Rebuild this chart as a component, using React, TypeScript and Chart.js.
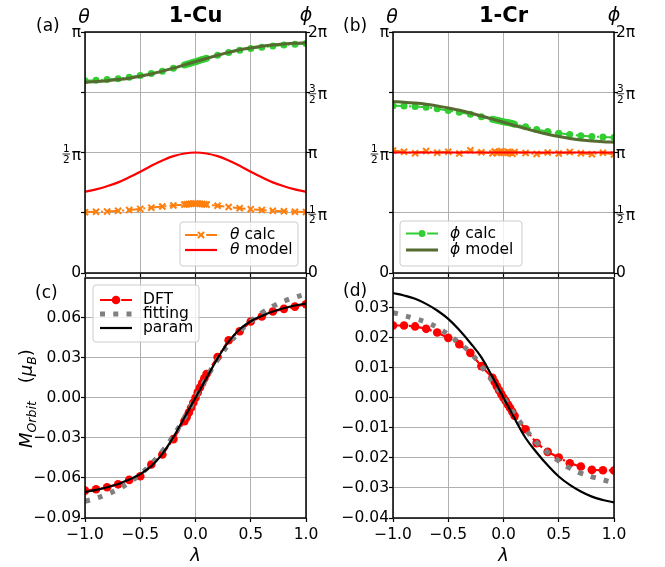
import React, { useEffect, useRef } from 'react';
import { Chart, registerables } from 'chart.js';
Chart.register(...registerables);

// ---------------- data ----------------
const LAM_CALC = [-1, -0.9, -0.8, -0.7, -0.6, -0.5, -0.4, -0.3, -0.2, -0.1, -0.08, -0.06, -0.04, -0.02, 0, 0.02, 0.04, 0.06, 0.08, 0.1, 0.2, 0.3, 0.4, 0.5, 0.6, 0.7, 0.8, 0.9, 1];
const LAM_MODEL = [-1, -0.9, -0.8, -0.7, -0.6, -0.5, -0.4, -0.3, -0.2, -0.1, 0, 0.1, 0.2, 0.3, 0.4, 0.5, 0.6, 0.7, 0.8, 0.9, 1];

// angles in units of pi
const CU_THETA_CALC = [0.252, 0.254, 0.255, 0.258, 0.261, 0.266, 0.271, 0.276, 0.280, 0.284, 0.285, 0.286, 0.287, 0.288, 0.288, 0.288, 0.287, 0.286, 0.285, 0.284, 0.279, 0.274, 0.269, 0.265, 0.261, 0.258, 0.256, 0.254, 0.253];
const CU_THETA_MODEL = [0.337, 0.347, 0.360, 0.376, 0.397, 0.420, 0.445, 0.467, 0.485, 0.496, 0.500, 0.496, 0.485, 0.467, 0.445, 0.420, 0.397, 0.376, 0.360, 0.347, 0.337];
const CU_PHI_CALC = [1.596, 1.600, 1.606, 1.613, 1.624, 1.639, 1.655, 1.675, 1.699, 1.727, 1.732, 1.737, 1.743, 1.748, 1.754, 1.760, 1.765, 1.771, 1.776, 1.782, 1.808, 1.830, 1.849, 1.863, 1.874, 1.884, 1.892, 1.899, 1.905];
const CU_PHI_MODEL = [1.584, 1.589, 1.596, 1.605, 1.617, 1.633, 1.652, 1.675, 1.700, 1.727, 1.754, 1.781, 1.807, 1.831, 1.852, 1.868, 1.882, 1.893, 1.901, 1.907, 1.911];

const CR_THETA_CALC = [0.508, 0.503, 0.497, 0.506, 0.499, 0.503, 0.496, 0.509, 0.501, 0.497, 0.504, 0.498, 0.502, 0.506, 0.499, 0.497, 0.503, 0.500, 0.495, 0.502, 0.498, 0.494, 0.500, 0.496, 0.502, 0.497, 0.493, 0.499, 0.492];
const CR_THETA_MODEL = [0.5, 0.5, 0.5, 0.5, 0.5, 0.5, 0.5, 0.5, 0.5, 0.5, 0.5, 0.5, 0.5, 0.5, 0.5, 0.5, 0.5, 0.5, 0.5, 0.5, 0.5];
const CR_PHI_CALC = [1.388, 1.385, 1.381, 1.376, 1.363, 1.349, 1.334, 1.317, 1.297, 1.276, 1.272, 1.268, 1.264, 1.260, 1.256, 1.252, 1.248, 1.244, 1.240, 1.235, 1.213, 1.191, 1.174, 1.160, 1.149, 1.140, 1.133, 1.128, 1.124];
const CR_PHI_MODEL = [1.422, 1.418, 1.411, 1.401, 1.387, 1.369, 1.350, 1.328, 1.303, 1.277, 1.251, 1.224, 1.198, 1.173, 1.151, 1.132, 1.116, 1.104, 1.095, 1.089, 1.085];

// orbital moments (mu_B)
const CU_DFT = [-0.0695, -0.0685, -0.0670, -0.0648, -0.0615, -0.0588, -0.0500, -0.0425, -0.0310, -0.0175, -0.0145, -0.0110, -0.0075, -0.0037, 0.0000, 0.0040, 0.0077, 0.0110, 0.0145, 0.0178, 0.0305, 0.0430, 0.0498, 0.0570, 0.0608, 0.0645, 0.0665, 0.0682, 0.0700];
const CU_FIT = [-0.0775, -0.0752, -0.0722, -0.0685, -0.0635, -0.0572, -0.0495, -0.0400, -0.0285, -0.0150, 0, 0.0150, 0.0285, 0.0400, 0.0495, 0.0572, 0.0635, 0.0685, 0.0722, 0.0752, 0.0775];
const CU_PARAM = [-0.0705, -0.0690, -0.0670, -0.0645, -0.0612, -0.0572, -0.0512, -0.0420, -0.0295, -0.0148, 0, 0.0148, 0.0295, 0.0420, 0.0512, 0.0572, 0.0612, 0.0645, 0.0670, 0.0690, 0.0705];

const CR_DFT = [0.0240, 0.0240, 0.0237, 0.0229, 0.0217, 0.0199, 0.0178, 0.0149, 0.0105, 0.0066, 0.0052, 0.0038, 0.0025, 0.0012, 0.0000, -0.0011, -0.0023, -0.0034, -0.0047, -0.0060, -0.0105, -0.0151, -0.0180, -0.0199, -0.0218, -0.0229, -0.0240, -0.0241, -0.0242];
const CR_FIT = [0.0283, 0.0273, 0.0263, 0.0251, 0.0234, 0.0210, 0.0182, 0.0150, 0.0105, 0.0055, 0, -0.0055, -0.0105, -0.0150, -0.0182, -0.0210, -0.0234, -0.0251, -0.0263, -0.0273, -0.0283];
const CR_PARAM = [0.0348, 0.0340, 0.0329, 0.0312, 0.0290, 0.0262, 0.0225, 0.0182, 0.0134, 0.0069, 0, -0.0069, -0.0134, -0.0182, -0.0225, -0.0262, -0.0290, -0.0312, -0.0329, -0.0340, -0.0348];

// ticks
const X_TICKS = [-1, -0.5, 0, 0.5, 1];
const THETA_TICKS = [0, 0.25, 0.5, 0.75, 1];
const THETA_LABELS = ['0', '', '1/2π', '', 'π'];
const PHI_TICKS = [0, 0.5, 1, 1.5, 2];
const PHI_LABELS = ['0', '1/2π', 'π', '3/2π', '2π'];
const CU_M_TICKS = [-0.09, -0.06, -0.03, 0, 0.03, 0.06];
const CR_M_TICKS = [-0.04, -0.03, -0.02, -0.01, 0, 0.01, 0.02, 0.03];

// ---------------- style ----------------
const W = 665, H = 567;
const FAM = '"DejaVu Sans", sans-serif';
const GRID = '#b0b0b0';
const ORANGE = '#ff7f0e';
const RED = '#ff0000';
const GREEN = '#32cd32';
const OLIVE = '#556b2f';
const GRAY = '#808080';
const DASHDOT = [12.8, 3.2, 2, 3.2];
const DOTTED = [5, 8.25];
const TICK_FS = 15.5;

const gridOpt = { color: GRID, lineWidth: 1, drawTicks: true, tickLength: 4, tickColor: '#000', tickWidth: 1.2 };

function fmt(v: number, d: number) {
  const s = Math.abs(v) < 1e-9 ? (0).toFixed(d) : v.toFixed(d);
  return s.replace('-', '\u2212');
}
const pts = (xs: number[], ys: number[]) => xs.map((x, i) => ({ x, y: ys[i] }));

type Piece = { t?: string; italic?: boolean; bold?: boolean; size?: number; dy?: number; gap?: number };
function drawPieces(ctx: any, pieces: Piece[], x: number, y: number, base: number) {
  let cx = x;
  for (const p of pieces) {
    if (p.gap) { cx += p.gap; continue; }
    ctx.font = `${p.italic ? 'italic ' : ''}${p.bold ? 'bold ' : ''}${p.size ?? base}px ${FAM}`;
    ctx.fillText(p.t, cx, y + (p.dy ?? 0));
    cx += ctx.measureText(p.t).width;
  }
  return cx - x;
}

function roundRect(ctx: any, x: number, y: number, w: number, h: number, r: number) {
  ctx.beginPath();
  ctx.moveTo(x + r, y);
  ctx.lineTo(x + w - r, y); ctx.arcTo(x + w, y, x + w, y + r, r);
  ctx.lineTo(x + w, y + h - r); ctx.arcTo(x + w, y + h, x + w - r, y + h, r);
  ctx.lineTo(x + r, y + h); ctx.arcTo(x, y + h, x, y + h - r, r);
  ctx.lineTo(x, y + r); ctx.arcTo(x, y, x + r, y, r);
  ctx.closePath();
}

function drawMarker(ctx: any, ds: any, x: number, y: number) {
  const r = ds.pointRadius;
  if (!r) return;
  ctx.save();
  ctx.setLineDash([]);
  if (ds.pointStyle === 'crossRot') {
    const o = r * Math.SQRT1_2;
    ctx.strokeStyle = ds.pointBorderColor; ctx.lineWidth = ds.pointBorderWidth;
    ctx.beginPath();
    ctx.moveTo(x - o, y - o); ctx.lineTo(x + o, y + o);
    ctx.moveTo(x - o, y + o); ctx.lineTo(x + o, y - o);
    ctx.stroke();
  } else {
    ctx.fillStyle = ds.pointBackgroundColor;
    ctx.beginPath(); ctx.arc(x, y, r, 0, Math.PI * 2); ctx.fill();
  }
  ctx.restore();
}

type LegendSpec = { x: number; y: number; w: number; h: number; rows: { ds: number; label: Piece[]; dy: number }[]; h0: number; h1: number; tx: number };
function drawLegend(chart: any, s: LegendSpec) {
  if (!s.rows.length) return;
  const ctx = chart.ctx;
  ctx.save();
  roundRect(ctx, s.x, s.y, s.w, s.h, 3);
  ctx.fillStyle = 'rgba(255,255,255,0.8)'; ctx.fill();
  ctx.strokeStyle = '#cccccc'; ctx.lineWidth = 1; ctx.stroke();
  for (const r of s.rows) {
    const ds = chart.data.datasets[r.ds];
    const yy = s.y + r.dy;
    ctx.save();
    ctx.beginPath();
    ctx.setLineDash(ds.borderDash || []);
    ctx.strokeStyle = ds.borderColor; ctx.lineWidth = ds.borderWidth; ctx.lineCap = 'butt';
    ctx.moveTo(s.x + s.h0, yy); ctx.lineTo(s.x + s.h1, yy); ctx.stroke();
    ctx.restore();
    drawMarker(ctx, ds, s.x + (s.h0 + s.h1) / 2, yy);
    ctx.fillStyle = '#000'; ctx.textBaseline = 'middle'; ctx.textAlign = 'left';
    drawPieces(ctx, r.label, s.x + s.tx, yy, TICK_FS);
  }
  ctx.restore();
}

function drawAngleLabel(ctx: any, label: string, x: number, y: number, align: 'left' | 'right') {
  if (!label) return;
  ctx.save();
  ctx.fillStyle = '#000';
  ctx.strokeStyle = '#000';
  if (label.includes('/')) {
    const [num, rest] = label.split('/');
    const den = rest.replace('π', '');
    const FS = 10.5;
    ctx.font = `${FS}px ${FAM}`;
    const fw = Math.max(ctx.measureText(num).width, ctx.measureText(den).width) + 2;
    ctx.font = `${TICK_FS}px ${FAM}`;
    const pw = ctx.measureText('π').width;
    const total = fw + 1 + pw;
    const sx = align === 'left' ? x : x - total;
    const barY = y + 1.5;
    ctx.font = `${FS}px ${FAM}`;
    ctx.textAlign = 'center'; ctx.textBaseline = 'alphabetic';
    ctx.fillText(num, sx + fw / 2, barY - 1.6);
    ctx.fillText(den, sx + fw / 2, barY + 9.2);
    ctx.lineWidth = 0.8;
    ctx.beginPath(); ctx.moveTo(sx + 0.5, barY); ctx.lineTo(sx + fw - 0.5, barY); ctx.stroke();
    ctx.font = `${TICK_FS}px ${FAM}`;
    ctx.textAlign = 'left';
    ctx.fillText('π', sx + fw + 1, barY + 5.5);
  } else {
    ctx.font = `${TICK_FS}px ${FAM}`;
    ctx.textAlign = align; ctx.textBaseline = 'middle';
    ctx.fillText(label, x, y + (label.includes('π') ? 1 : 0));
  }
  ctx.restore();
}

type Deco = {
  title?: string; panel: string; panelX: number; panelY: number;
  angles?: boolean; legend: LegendSpec; ylabel?: boolean;
};

function decoPlugin(d: Deco) {
  return {
    id: 'deco',
    afterDraw(chart: any) {
      const ctx = chart.ctx;
      const { left: L, top: T, right: R, bottom: B } = chart.chartArea;
      ctx.save();
      ctx.strokeStyle = '#000'; ctx.lineWidth = 1.5;
      ctx.strokeRect(L, T, R - L, B - T);
      drawLegend(chart, d.legend);
      ctx.fillStyle = '#000';
      ctx.textAlign = 'left'; ctx.textBaseline = 'alphabetic';
      ctx.font = `17px ${FAM}`;
      ctx.fillText(d.panel, d.panelX, d.panelY);
      if (d.title) {
        ctx.font = `bold 21px ${FAM}`;
        ctx.textAlign = 'center';
        ctx.fillText(d.title, (L + R) / 2, 22);
      }
      if (d.angles) {
        ctx.font = `italic 19px ${FAM}`;
        ctx.textAlign = 'center';
        ctx.fillText('θ', L - 1, 23);
        ctx.fillText('ϕ', R, 21);
        const yL = chart.scales.yL, yR = chart.scales.yR;
        THETA_TICKS.forEach((v, i) => drawAngleLabel(ctx, THETA_LABELS[i], L - 4, yL.getPixelForValue(v), 'right'));
        PHI_TICKS.forEach((v, i) => drawAngleLabel(ctx, PHI_LABELS[i], R + 2, yR.getPixelForValue(v), 'left'));
      }
      if (d.ylabel) {
        const pieces: Piece[] = [
          { t: 'M', italic: true, size: 18 },
          { t: 'Orbit', italic: true, size: 12.5, dy: 3.5 },
          { gap: 18 },
          { t: '(', size: 18 },
          { t: 'μ', italic: true, size: 18 },
          { t: 'B', italic: true, size: 12.5, dy: 3.5 },
          { t: ')', size: 18 },
        ];
        ctx.save();
        ctx.translate(32, (T + B) / 2 + 50);
        ctx.rotate(-Math.PI / 2);
        ctx.textAlign = 'left'; ctx.textBaseline = 'alphabetic';
        drawPieces(ctx, pieces, 0, 0, 18);
        ctx.restore();
      }
      ctx.restore();
    },
  };
}

function xScale(showLabels: boolean, axisH: number) {
  return {
    type: 'linear', position: 'bottom', min: -1, max: 1,
    afterBuildTicks: (s: any) => { s.ticks = X_TICKS.map((v) => ({ value: v })); },
    afterFit: (s: any) => { s.height = axisH; },
    grid: gridOpt,
    border: { display: false },
    ticks: {
      display: showLabels, autoSkip: false, maxRotation: 0, padding: 4, color: '#000',
      font: { family: FAM, size: TICK_FS }, callback: (v: number) => fmt(v, 1),
    },
    title: showLabels
      ? { display: true, text: 'λ', color: '#000', font: { family: FAM, size: 18, style: 'italic' }, padding: { top: 0, bottom: 0 } }
      : { display: false },
  };
}

const commonOpts = {
  responsive: false, animation: false, devicePixelRatio: 1, events: [],
  plugins: { legend: { display: false }, tooltip: { enabled: false }, title: { display: false } },
};

type Box = { L: number; T: number; R: number; B: number };

function angleChart(canvas: HTMLCanvasElement, p: Box, tc: number[], tm: number[], pc: number[], pm: number[], deco: Deco) {
  const yLW = 40, yRW = 30, xH = 10;
  return new Chart(canvas as any, {
    type: 'line',
    data: {
      datasets: [
        { label: 'θ calc', data: pts(LAM_CALC, tc), yAxisID: 'yL', borderColor: ORANGE, borderWidth: 2, borderDash: DASHDOT,
          pointStyle: 'crossRot', pointRadius: 4.3, pointBorderColor: ORANGE, pointBackgroundColor: ORANGE, pointBorderWidth: 2, order: 3, clip: 0, tension: 0 },
        { label: 'θ model', data: pts(LAM_MODEL, tm), yAxisID: 'yL', borderColor: RED, borderWidth: 2.2, pointRadius: 0, order: 2, clip: 0, tension: 0.4 },
        { label: 'ϕ calc', data: pts(LAM_CALC, pc), yAxisID: 'yR', borderColor: GREEN, borderWidth: 2, borderDash: DASHDOT,
          pointStyle: 'circle', pointRadius: 3.5, pointBorderWidth: 0, pointBorderColor: GREEN, pointBackgroundColor: GREEN, order: 1, clip: 0, tension: 0 },
        { label: 'ϕ model', data: pts(LAM_MODEL, pm), yAxisID: 'yR', borderColor: OLIVE, borderWidth: 3, pointRadius: 0, order: 0, clip: 0, tension: 0.4 },
      ],
    },
    options: {
      ...commonOpts,
      layout: { padding: { left: p.L - yLW, right: W - p.R - yRW, top: p.T, bottom: H - p.B - xH } },
      scales: {
        x: xScale(false, xH),
        yL: {
          type: 'linear', position: 'left', min: 0, max: 1,
          afterBuildTicks: (s: any) => { s.ticks = THETA_TICKS.map((v) => ({ value: v })); },
          afterFit: (s: any) => { s.width = yLW; },
          grid: gridOpt, border: { display: false }, ticks: { display: false, autoSkip: false },
        },
        yR: {
          type: 'linear', position: 'right', min: 0, max: 2,
          afterBuildTicks: (s: any) => { s.ticks = PHI_TICKS.map((v) => ({ value: v })); },
          afterFit: (s: any) => { s.width = yRW; },
          grid: { ...gridOpt, drawOnChartArea: false }, border: { display: false }, ticks: { display: false, autoSkip: false },
        },
      },
    } as any,
    plugins: [decoPlugin(deco) as any],
  });
}

function momentChart(canvas: HTMLCanvasElement, p: Box, dft: number[], fit: number[], par: number[], yMin: number, yMax: number, yTicks: number[], deco: Deco) {
  const yLW = 80, xH = 49;
  return new Chart(canvas as any, {
    type: 'line',
    data: {
      datasets: [
        { label: 'DFT', data: pts(LAM_CALC, dft), borderColor: RED, borderWidth: 2.2, borderDash: DASHDOT,
          pointStyle: 'circle', pointRadius: 4.3, pointBorderWidth: 0, pointBorderColor: RED, pointBackgroundColor: RED, order: 2, clip: 0, tension: 0 },
        { label: 'fitting', data: pts(LAM_MODEL, fit), borderColor: GRAY, borderWidth: 5, borderDash: DOTTED, borderCapStyle: 'butt',
          pointRadius: 0, order: 1, clip: 0, tension: 0.4 },
        { label: 'param', data: pts(LAM_MODEL, par), borderColor: '#000', borderWidth: 2.2, pointRadius: 0, order: 0, clip: 0, tension: 0.4 },
      ],
    },
    options: {
      ...commonOpts,
      layout: { padding: { left: p.L - yLW, right: W - p.R, top: p.T, bottom: H - p.B - xH } },
      scales: {
        x: xScale(true, xH),
        y: {
          type: 'linear', position: 'left', min: yMin, max: yMax,
          afterBuildTicks: (s: any) => { s.ticks = yTicks.map((v) => ({ value: v })); },
          afterFit: (s: any) => { s.width = yLW; },
          grid: gridOpt, border: { display: false },
          ticks: { autoSkip: false, padding: 0, color: '#000', font: { family: FAM, size: TICK_FS }, callback: (v: number) => fmt(v, 2) },
        },
      },
    } as any,
    plugins: [decoPlugin(deco) as any],
  });
}

const BOX_A = { L: 85, T: 32, R: 306, B: 273 };
const BOX_B = { L: 393, T: 32, R: 614, B: 273 };
const BOX_C = { L: 85, T: 278, R: 306, B: 518 };
const BOX_D = { L: 393, T: 278, R: 614, B: 518 };

export default function App() {
  const r0 = useRef<HTMLCanvasElement>(null);
  const r1 = useRef<HTMLCanvasElement>(null);
  const r2 = useRef<HTMLCanvasElement>(null);
  const r3 = useRef<HTMLCanvasElement>(null);

  useEffect(() => {
    const th = (t: string) => [{ t: 'θ', italic: true }, { t: ' ' + t }];
    const ph = (t: string) => [{ t: 'ϕ', italic: true }, { t: ' ' + t }];
    const charts = [
      angleChart(r0.current!, BOX_A, CU_THETA_CALC, CU_THETA_MODEL, CU_PHI_CALC, CU_PHI_MODEL, {
        title: '1-Cu', panel: '(a)', panelX: 36, panelY: 31, angles: true,
        legend: { x: BOX_A.R - 126, y: BOX_A.B - 51, w: 118, h: 44, h0: 5, h1: 37, tx: 50,
          rows: [{ ds: 0, label: th('calc'), dy: 13 }, { ds: 1, label: th('model'), dy: 28 }] },
      }),
      angleChart(r1.current!, BOX_B, CR_THETA_CALC, CR_THETA_MODEL, CR_PHI_CALC, CR_PHI_MODEL, {
        title: '1-Cr', panel: '(b)', panelX: 343, panelY: 31, angles: true,
        legend: { x: BOX_B.L + 7, y: BOX_B.B - 52, w: 122, h: 45, h0: 6, h1: 38, tx: 50,
          rows: [{ ds: 2, label: ph('calc'), dy: 12.5 }, { ds: 3, label: ph('model'), dy: 29 }] },
      }),
      momentChart(r2.current!, BOX_C, CU_DFT, CU_FIT, CU_PARAM, -0.09, 0.0896, CU_M_TICKS, {
        panel: '(c)', panelX: 35, panelY: 298, ylabel: true,
        legend: { x: BOX_C.L + 8, y: BOX_C.T + 7, w: 106, h: 57, h0: 7, h1: 39, tx: 50,
          rows: [{ ds: 0, label: [{ t: 'DFT' }], dy: 15 }, { ds: 1, label: [{ t: 'fitting' }], dy: 29 }, { ds: 2, label: [{ t: 'param' }], dy: 43 }] },
      }),
      momentChart(r3.current!, BOX_D, CR_DFT, CR_FIT, CR_PARAM, -0.04, 0.0398, CR_M_TICKS, {
        panel: '(d)', panelX: 343, panelY: 296,
        legend: { x: 0, y: 0, w: 0, h: 0, h0: 0, h1: 0, tx: 0, rows: [] },
      }),
    ];
    return () => charts.forEach((c) => c.destroy());
  }, []);

  const cs: React.CSSProperties = { position: 'absolute', left: 0, top: 0 };
  return (
    <div style={{ position: 'absolute', left: 0, top: 0, width: W, height: H, background: '#fff' }}>
      <canvas ref={r0} width={W} height={H} style={cs} />
      <canvas ref={r1} width={W} height={H} style={cs} />
      <canvas ref={r2} width={W} height={H} style={cs} />
      <canvas ref={r3} width={W} height={H} style={cs} />
    </div>
  );
}
